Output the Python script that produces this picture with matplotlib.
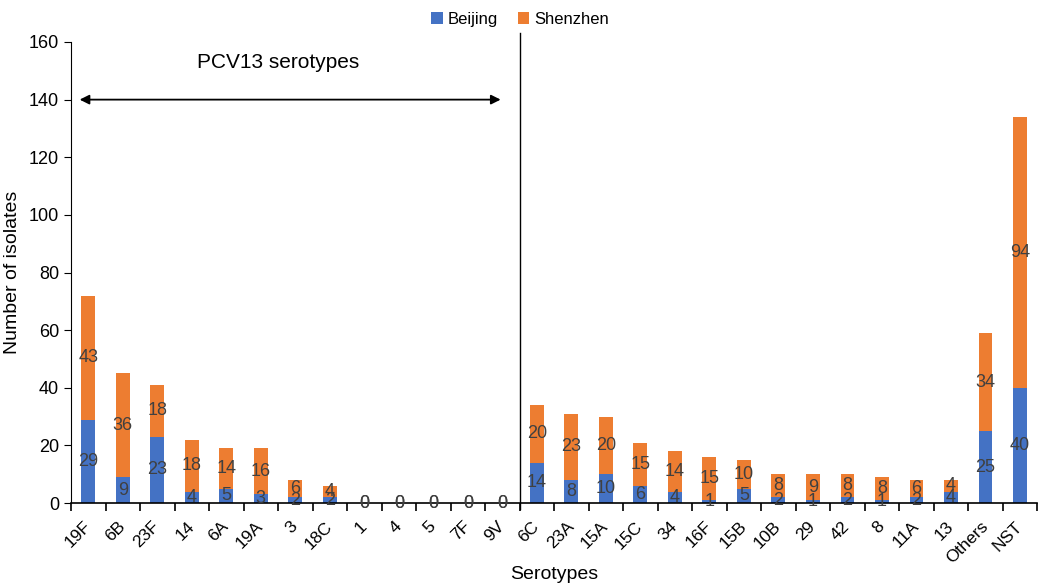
import numpy as np
import matplotlib
matplotlib.use("Agg")
import matplotlib.pyplot as plt

plt.rcParams["font.family"] = ["Liberation Sans", "DejaVu Sans"]

serotypes = ["19F", "6B", "23F", "14", "6A", "19A", "3", "18C", "1", "4", "5", "7F", "9V",
             "6C", "23A", "15A", "15C", "34", "16F", "15B", "10B", "29", "42", "8", "11A", "13",
             "Others", "NST"]
beijing = [29, 9, 23, 4, 5, 3, 2, 2, 0, 0, 0, 0, 0,
           14, 8, 10, 6, 4, 1, 5, 2, 1, 2, 1, 2, 4, 25, 40]
shenzhen = [43, 36, 18, 18, 14, 16, 6, 4, 0, 0, 0, 0, 0,
            20, 23, 20, 15, 14, 15, 10, 8, 9, 8, 8, 6, 4, 34, 94]
n_pcv13 = 13

blue = "#4472C4"
orange = "#ED7D31"
label_color = "#404040"

fig = plt.figure(figsize=(10.4, 5.83), dpi=100)
ax = fig.add_axes([0.0683, 0.137, 0.929, 0.791])

x = np.arange(len(serotypes))
b1 = ax.bar(x, beijing, width=0.4, color=blue, label="Beijing")
b2 = ax.bar(x, shenzhen, width=0.4, bottom=beijing, color=orange, label="Shenzhen")

# value labels in the middle of each segment
for i in range(len(serotypes)):
    ax.text(x[i], beijing[i] / 2, str(beijing[i]), ha="center", va="center",
            fontsize=13, color=label_color)
    ax.text(x[i], beijing[i] + shenzhen[i] / 2, str(shenzhen[i]), ha="center", va="center",
            fontsize=13, color=label_color)

ax.set_xlim(-0.5, len(serotypes) - 0.5)
ax.set_ylim(0, 160)
ax.set_yticks(range(0, 161, 20))
ax.tick_params(axis="y", labelsize=13, direction="out", length=5)

ax.set_xticks(x)
ax.set_xticklabels(serotypes, rotation=45, ha="right", va="center",
                   rotation_mode="anchor", fontsize=12.5)
ax.tick_params(axis="x", which="major", length=0, pad=15)
ax.set_xticks(np.arange(-0.5, len(serotypes), 1), minor=True)
ax.tick_params(axis="x", which="minor", length=6, width=1.2, direction="out")

for s in ["top", "right"]:
    ax.spines[s].set_visible(False)
ax.spines["bottom"].set_linewidth(1.2)

ax.set_xlabel("Serotypes", fontsize=14, labelpad=0)
ax.set_ylabel("Number of isolates", fontsize=14, labelpad=6)

# PCV13 separator and arrow
ax.plot([n_pcv13 - 0.5, n_pcv13 - 0.5], [-2, 163], color="black", lw=1, clip_on=False)
ax.annotate("", xy=(-0.25, 140), xytext=(n_pcv13 - 1.05, 140),
            arrowprops=dict(arrowstyle="<|-|>", color="black", lw=1.3,
                            mutation_scale=14, shrinkA=0, shrinkB=0))
ax.text(5.5, 153, "PCV13 serotypes", ha="center", va="center", fontsize=15)

fig.legend(handles=[b1, b2], loc="upper center", bbox_to_anchor=(0.5, 1.005), ncol=2,
           frameon=False, fontsize=12, handlelength=0.7, handleheight=0.7,
           handletextpad=0.3, columnspacing=1.2)

fig.savefig("out.png", dpi=100)
